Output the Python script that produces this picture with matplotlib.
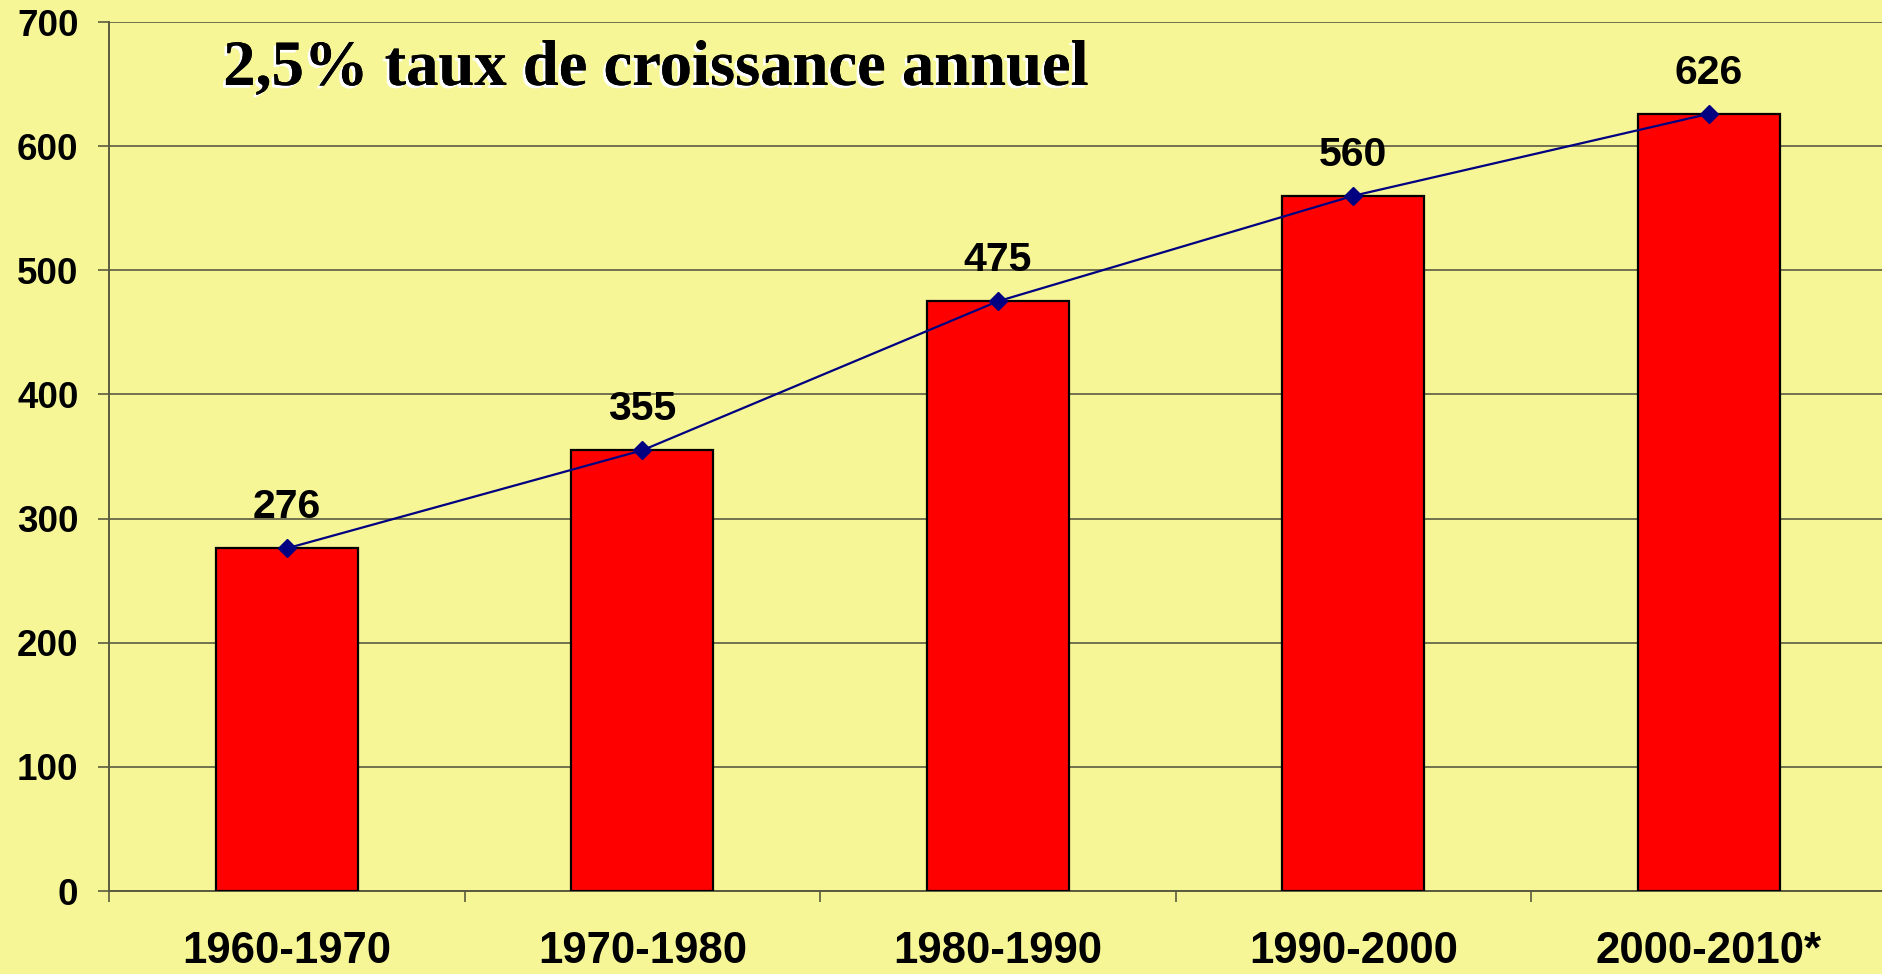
import matplotlib
matplotlib.use("Agg")
import matplotlib.pyplot as plt
import matplotlib.patheffects as pe
import numpy as np

periods = ["1960-1970", "1970-1980", "1980-1990", "1990-2000", "2000-2010*"]
values = [276, 355, 475, 560, 626]
y_ticks = [0, 100, 200, 300, 400, 500, 600, 700]
title = "2,5% taux de croissance annuel"

bg = "#F6F696"
grid_c = "#5A5A40"

fig = plt.figure(figsize=(18.83, 9.74), dpi=100, facecolor=bg)
ax = fig.add_axes([0.0579, 0.0852, 0.944, 0.8922])
ax.set_facecolor(bg)

x = np.arange(len(periods))
ax.bar(x, values, width=0.40, color="#FF0000", edgecolor="black",
       linewidth=1.6, zorder=3)
ax.plot(x, values, color="#000080", linewidth=1.6, marker="D",
        markersize=9, markerfacecolor="#000080", markeredgecolor="#000080",
        zorder=4)

for xi, v in zip(x, values):
    ax.annotate(str(v), (xi, v), xytext=(0, 29.5), textcoords="offset points",
                ha="center", va="center", fontsize=29.5, fontweight="bold",
                family="Liberation Sans", zorder=5)

ax.set_xlim(-0.5, len(periods) - 0.5)
ax.set_ylim(0, 700)
ax.set_yticks(y_ticks)
ax.set_yticklabels([str(t) for t in y_ticks], fontsize=26.5, fontweight="bold",
                   family="Liberation Sans")
ax.set_xticks(x)
ax.set_xticklabels(periods, fontsize=31.5, fontweight="bold",
                   family="Liberation Sans")
ax.set_xticks(np.arange(len(periods) + 1) - 0.5, minor=True)
ax.tick_params(axis="x", which="major", length=0, pad=29)
ax.tick_params(axis="x", which="minor", length=8, width=1.2, color=grid_c,
               direction="out")
ax.tick_params(axis="y", length=8, width=1.2, color=grid_c, pad=14)

ax.yaxis.grid(True, color=grid_c, linewidth=1.2, zorder=0)
ax.set_axisbelow(True)
for s in ["top", "right"]:
    ax.spines[s].set_visible(False)
for s in ["left", "bottom"]:
    ax.spines[s].set_color(grid_c)
    ax.spines[s].set_linewidth(1.4)

ax.text(0.308, 0.946, title, transform=ax.transAxes, ha="center",
        va="center", fontsize=46.5, fontweight="bold", family="Liberation Serif",
        path_effects=[pe.withSimplePatchShadow(offset=(-2, -2),
                                               shadow_rgbFace="white",
                                               alpha=1.0),
                      pe.Normal()], zorder=6)

fig.savefig("out.png", dpi=100, facecolor=bg)
